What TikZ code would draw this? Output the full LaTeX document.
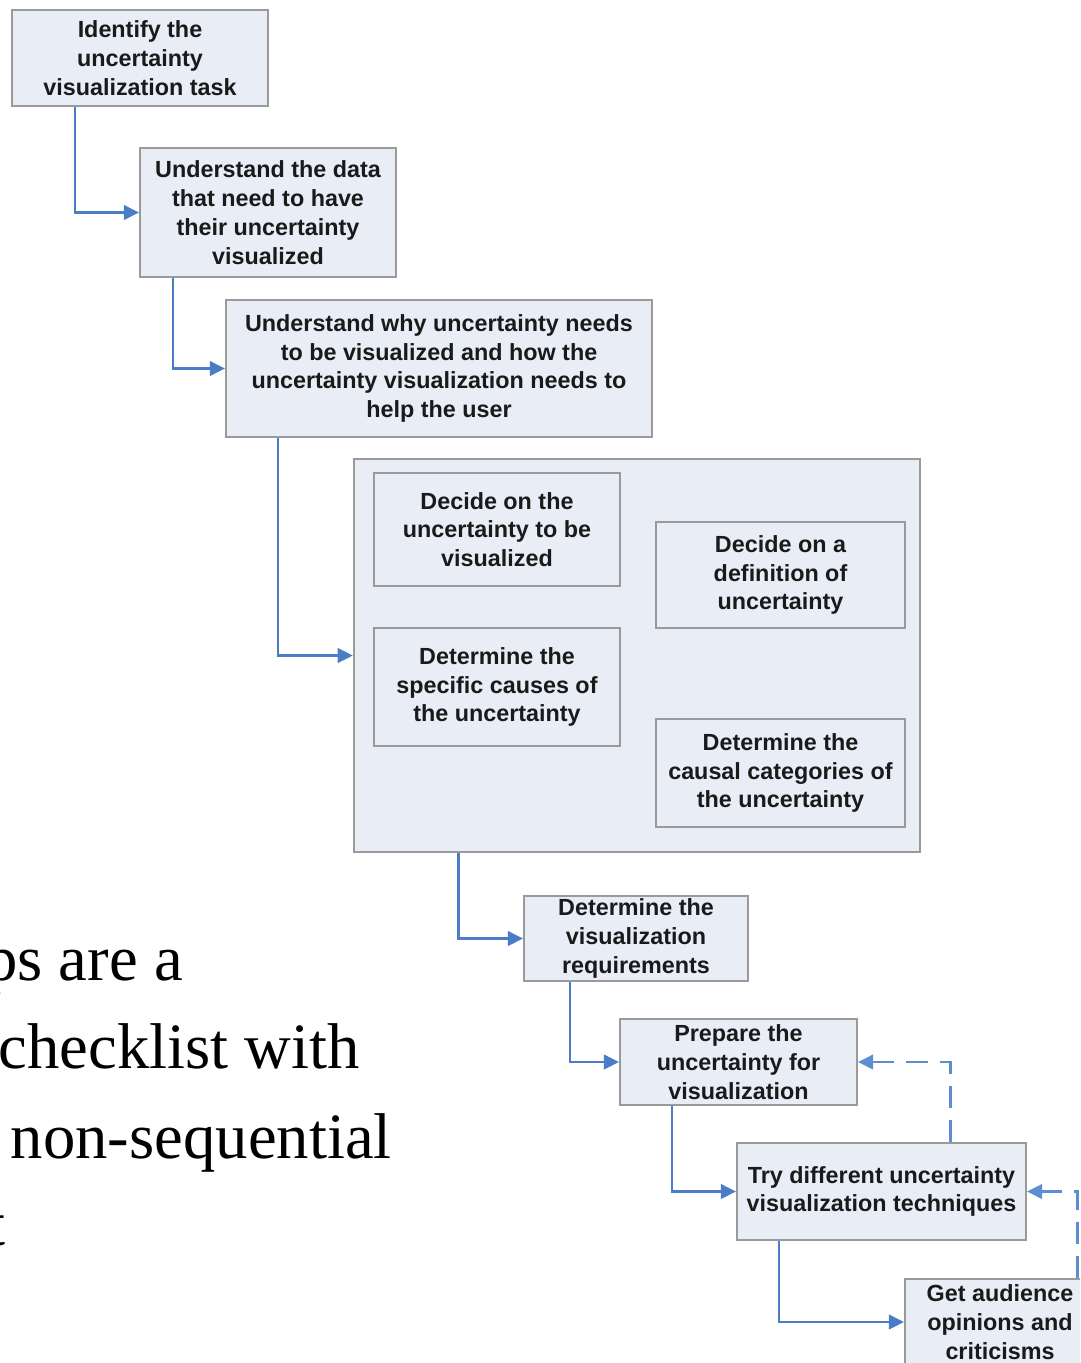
\documentclass[tikz,border=0pt]{standalone}
\usepackage{fontspec}
\setmainfont{Liberation Serif}
\setsansfont{Liberation Sans}
\usetikzlibrary{arrows.meta, positioning}
\definecolor{boxfill}{HTML}{E8EDF6}
\definecolor{boxline}{HTML}{9A9A9A}
\definecolor{flowblue}{HTML}{4A7CC8}
\definecolor{loopblue}{HTML}{5F8DD2}
\definecolor{boxtext}{HTML}{1A1A1A}
\tikzset{
    step_box/.style={rectangle, draw=boxline, line width=1.3pt, fill=boxfill, inner sep=0pt, align=center, text=boxtext, font=\sffamily\bfseries\fontsize{16.6}{20.5}\selectfont},
    group_box/.style={rectangle, draw=boxline, line width=1.5pt, fill=boxfill, inner sep=0pt},
    arrow/.style={draw=flowblue, line width=2pt, -{Triangle[length=0.38cm, width=0.36cm]}},
    back_arrow/.style={arrow, draw=loopblue, dash pattern=on 0.55cm off 0.3cm},
    slide_text/.style={anchor=base east, inner sep=0pt, font=\fontsize{46}{62}\selectfont}
}
\begin{document}
\begin{tikzpicture}[x=0.025cm, y=-0.025cm]
    \useasboundingbox (0,0) rectangle (1080,1363);
    \clip (0,0) rectangle (1080,1363);

    % Slide text (cut at the left edge)
    \node[slide_text] (line1) at (183,980) {ps are a};
    \node[slide_text] (line2) at (360,1068) {checklist with};
    \node[slide_text] (line3) at (392,1158) {non-sequential};
    \node[slide_text] (line4) at (6,1245) {t};

    % Main steps
    \node[step_box, minimum width=6.4cm, minimum height=2.4cm] (task) at (140,58) {Identify the\\uncertainty\\visualization task};
    \node[step_box, minimum width=6.4cm, minimum height=3.225cm] (data) at (268,212.5) {Understand the data\\that need to have\\their uncertainty\\visualized};
    \node[step_box, minimum width=10.65cm, minimum height=3.425cm] (purpose) at (439,368.5) {Understand why uncertainty needs\\to be visualized and how the\\uncertainty visualization needs to\\help the user};

    % Group of unordered decisions
    \node[group_box, minimum width=14.15cm, minimum height=9.825cm] (choices) at (637,655.5) {};
    \node[step_box, minimum width=6.15cm, minimum height=2.825cm] (selection) at (497,529.5) {Decide on the\\uncertainty to be\\visualized};
    \node[step_box, minimum width=6.225cm, minimum height=2.65cm] (definition) at (780.5,575) {Decide on a\\definition of\\uncertainty};
    \node[step_box, minimum width=6.15cm, minimum height=2.95cm] (causes) at (497,687) {Determine the\\specific causes of\\the uncertainty};
    \node[step_box, minimum width=6.225cm, minimum height=2.7cm] (categories) at (780.5,773) {Determine the\\causal categories of\\the uncertainty};

    % Later steps
    \node[step_box, minimum width=5.6cm, minimum height=2.125cm] (requirements) at (636,938.5) {Determine the\\visualization\\requirements};
    \node[step_box, minimum width=5.925cm, minimum height=2.15cm] (prepare) at (738.5,1062) {Prepare the\\uncertainty for\\visualization};
    \node[step_box, minimum width=7.225cm, minimum height=2.425cm] (techniques) at (881.5,1191.5) {Try different uncertainty\\visualization techniques};
    \node[step_box, minimum width=4.75cm, minimum height=2.15cm] (feedback) at (1000,1322) {Get audience\\opinions and\\criticisms};

    % Connections
    \draw[arrow] ([xshift=1.6cm]task.south west) |- (data.west);
    \draw[arrow] ([xshift=0.85cm]data.south west) |- (purpose.west);
    \draw[arrow] ([xshift=1.325cm]purpose.south west) |- (choices.west);
    \draw[arrow] ([xshift=2.65cm]choices.south west) |- (requirements.west);
    \draw[arrow] ([xshift=1.175cm]requirements.south west) |- (prepare.west);
    \draw[arrow] ([xshift=1.325cm]prepare.south west) |- (techniques.west);
    \draw[arrow] ([xshift=1.075cm]techniques.south west) |- (feedback.west);

    % Feedback loops
    \draw[back_arrow] ([xshift=5.35cm]techniques.north west) |- (prepare.east);
    \draw[back_arrow] ([xshift=4.325cm]feedback.north west) |- (techniques.east);
\end{tikzpicture}
\end{document}
